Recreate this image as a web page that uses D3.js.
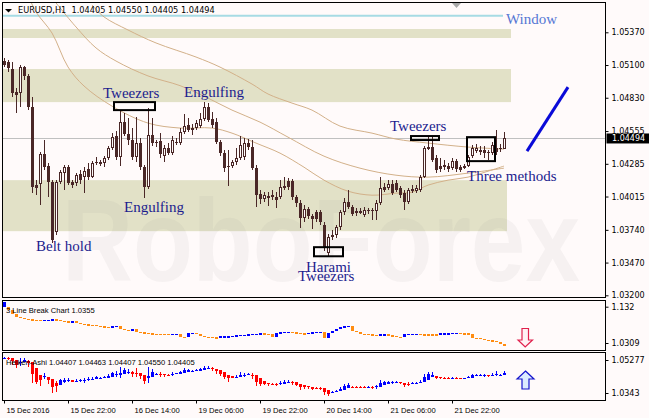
<!DOCTYPE html>
<html><head><meta charset="utf-8">
<script src="https://cdn.jsdelivr.net/npm/d3@7/dist/d3.min.js"></script>
<style>
html,body{margin:0;padding:0;background:#fffafa;}
svg{display:block;}
</style></head>
<body>
<svg id="chart" width="649" height="418"></svg>
<script>
// ---------------- DATA ----------------
const opens = [
1.05133,1.05125,1.05067,1.04877,1.04869,1.05083,1.05009,1.04753,1.04109,1.04117,
1.04365,1.04266,1.04133,1.03721,1.04133,1.04208,1.04257,1.04133,1.04125,1.04199,
1.04175,1.04241,1.04175,1.04299,1.04299,1.04291,1.04332,1.04415,1.04514,1.04340,
1.04629,1.04530,1.04481,1.04340,1.04456,1.04257,1.04092,1.04522,1.04464,1.04472,
1.04348,1.04415,1.04373,1.04464,1.04456,1.04547,1.04604,1.04580,1.04580,1.04596,
1.04654,1.04753,1.04654,1.04629,1.04464,1.04373,1.04266,1.04266,1.04299,1.04332,
1.04340,1.04456,1.04423,1.04249,1.04034,1.03993,1.04018,1.04026,1.04010,1.04010,
1.04100,1.04142,1.04142,1.04010,1.03960,1.03836,1.03911,1.03853,1.03886,1.03886,
1.03778,1.03547,1.03679,1.03696,1.03762,1.03886,1.03968,1.03927,1.03894,1.03877,
1.03861,1.03902,1.03902,1.03894,1.03960,1.04092,1.04084,1.04117,1.04125,1.04084,
1.04043,1.03968,1.04076,1.04059,1.04068,1.04175,1.04406,1.04423,1.04332,1.04266,
1.04274,1.04266,1.04249,1.04307,1.04257,1.04249,1.04266,1.04348,1.04390,1.04398,
1.04398,1.04381,1.04373,1.04415,1.04415,1.04405];
const highs = [
1.05158,1.05141,1.05125,1.04910,1.05100,1.05092,1.05026,1.04836,1.04150,1.04381,
1.04481,1.04291,1.04150,1.04150,1.04233,1.04274,1.04274,1.04150,1.04208,1.04233,
1.04257,1.04291,1.04307,1.04340,1.04315,1.04348,1.04431,1.04538,1.04555,1.04720,
1.04703,1.04662,1.04580,1.04670,1.04497,1.04274,1.04745,1.04662,1.04481,1.04538,
1.04439,1.04456,1.04514,1.04497,1.04580,1.04695,1.04662,1.04612,1.04646,1.04703,
1.04794,1.04786,1.04712,1.04662,1.04481,1.04398,1.04398,1.04315,1.04415,1.04514,
1.04497,1.04489,1.04481,1.04274,1.04068,1.04051,1.04051,1.04068,1.04051,1.04150,
1.04175,1.04166,1.04158,1.04026,1.03985,1.03943,1.03927,1.03869,1.03902,1.03902,
1.03803,1.03704,1.03737,1.03778,1.03902,1.04001,1.04068,1.03943,1.03919,1.03919,
1.03927,1.03919,1.03919,1.03985,1.04175,1.04125,1.04150,1.04150,1.04150,1.04100,
1.04068,1.04084,1.04109,1.04109,1.04191,1.04431,1.04505,1.04505,1.04357,1.04332,
1.04315,1.04291,1.04332,1.04324,1.04274,1.04282,1.04357,1.04439,1.04448,1.04431,
1.04431,1.04398,1.04464,1.04563,1.04448,1.04550];
const lows = [
1.05083,1.05042,1.04836,1.04703,1.04753,1.04976,1.04728,1.04043,1.04026,1.03943,
1.04233,1.04010,1.03630,1.03696,1.04117,1.04068,1.04109,1.04084,1.04100,1.04117,
1.04043,1.04150,1.04166,1.04274,1.04266,1.04257,1.04315,1.04398,1.04315,1.04266,
1.04514,1.04439,1.04315,1.04299,1.04233,1.04001,1.04076,1.04431,1.04423,1.04332,
1.04299,1.04357,1.04357,1.04439,1.04439,1.04530,1.04547,1.04522,1.04563,1.04580,
1.04637,1.04629,1.04580,1.04448,1.04348,1.04216,1.04100,1.04249,1.04274,1.04315,
1.04315,1.04398,1.04233,1.03927,1.03952,1.03968,1.03935,1.03985,1.03919,1.03993,
1.04068,1.04068,1.03985,1.03927,1.03754,1.03803,1.03828,1.03745,1.03803,1.03778,
1.03564,1.03522,1.03655,1.03671,1.03737,1.03861,1.03911,1.03853,1.03853,1.03869,
1.03844,1.03869,1.03820,1.03820,1.03943,1.04051,1.04068,1.04026,1.04051,1.04001,
1.03902,1.03952,1.04043,1.04043,1.04051,1.04166,1.04398,1.04299,1.04208,1.04216,
1.04233,1.04216,1.04233,1.04216,1.04216,1.04241,1.04257,1.04332,1.04373,1.04357,
1.04332,1.04315,1.04357,1.04357,1.04381,1.04405];
const closes = [
1.05100,1.05075,1.04869,1.04852,1.05083,1.05009,1.04753,1.04092,1.04084,1.04365,
1.04257,1.04133,1.03655,1.04133,1.04216,1.04257,1.04125,1.04109,1.04191,1.04150,
1.04224,1.04175,1.04291,1.04291,1.04282,1.04332,1.04415,1.04505,1.04340,1.04629,
1.04530,1.04481,1.04340,1.04456,1.04257,1.04092,1.04522,1.04456,1.04456,1.04365,
1.04415,1.04373,1.04481,1.04456,1.04547,1.04596,1.04563,1.04563,1.04621,1.04654,
1.04753,1.04646,1.04604,1.04464,1.04373,1.04249,1.04257,1.04299,1.04332,1.04439,
1.04456,1.04423,1.04249,1.04026,1.03993,1.04026,1.04001,1.04010,1.03985,1.04092,
1.04084,1.04092,1.04010,1.03960,1.03836,1.03911,1.03853,1.03828,1.03828,1.03803,
1.03589,1.03679,1.03696,1.03762,1.03886,1.03968,1.03927,1.03869,1.03877,1.03894,
1.03902,1.03894,1.03894,1.03960,1.04084,1.04068,1.04117,1.04043,1.04068,1.04026,
1.03968,1.04068,1.04059,1.04084,1.04175,1.04415,1.04423,1.04315,1.04233,1.04241,
1.04257,1.04241,1.04307,1.04241,1.04233,1.04266,1.04340,1.04415,1.04415,1.04381,
1.04373,1.04373,1.04439,1.04381,1.04406,1.04494];

const priceTicks = [1.05370,1.05100,1.04830,1.04555,1.04285,1.04015,1.03740,1.03470,1.03200];
const timeIdx = [0,16,32,48,64,80,96,112];
const timeLabels = ["15 Dec 2016","15 Dec 22:00","16 Dec 14:00","19 Dec 06:00","19 Dec 22:00","20 Dec 14:00","21 Dec 06:00","21 Dec 22:00"];

// moving averages (bar index, price)
const maFastIdx = [6,8,12,16,20,27,36,44,52,57,63,69,75,80,86,92,98,102,106,111,116,121,125];
const maFastVal = [1.05678,1.05538,1.05364,1.05084,1.04927,1.04761,1.04621,1.04580,1.04580,1.04538,1.04456,1.04373,1.04257,1.04150,1.04059,1.04026,1.04043,1.04051,1.04109,1.04150,1.04175,1.04224,1.04266];
const maMidIdx = [12,18,23,28,36,44,51,57,64,71,80,89,98,106,116,125];
const maMidVal = [1.05654,1.05414,1.05241,1.05133,1.05010,1.04930,1.04827,1.04728,1.04629,1.04505,1.04348,1.04249,1.04191,1.04175,1.04208,1.04249];
const maSlowIdx = [22,25,31,38,48,54,62,66,72,77,84,92,98,106,116,125];
const maSlowVal = [1.05596,1.05497,1.05389,1.05282,1.05166,1.05083,1.04943,1.04861,1.04786,1.04728,1.04596,1.04538,1.04489,1.04456,1.04423,1.04406];

// support / resistance zones
const zoneHi = [1.05397,1.05067,1.04150];
const zoneLo = [1.05323,1.04794,1.03729];
const zoneEnd = [126.75,126.75,125.75];

// pattern boxes
const boxI0 = [27.5,77.5,101.75,115.75];
const boxI1 = [37.75,84.75,108.75,122.75];
const boxHi = [1.04794,1.03597,1.04514,1.04505];
const boxLo = [1.04728,1.03522,1.04481,1.04307];

// pattern notes
const noteText  = ["Tweezers","Engulfing","Engulfing","Belt hold","Harami","Tweezers","Tweezers","Three methods"];
const noteIdx   = [24.75,45,30,8,75.5,73.5,96.5,115.75];
const notePrice = [1.04832,1.04836,1.03889,1.03566,1.03390,1.03316,1.04555,1.04142];

const windowPrice = 1.05507;
const lastPrice = 1.04494;
const trendIdx = [130.75,141];
const trendPrice = [1.04390,1.04918];

// 3 Line Break indicator values and direction (1 = up / blue)
const lbVal = [
1.1211,1.1145,1.1057,1.0991,1.0969,1.0947,1.0936,1.0925,1.0925,1.0903,
1.0925,1.0925,1.0936,1.0925,1.0903,1.0903,1.0859,1.0903,1.0859,1.0837,
1.0826,1.0815,1.0815,1.0793,1.0782,1.0771,1.0749,1.0793,1.0793,1.0727,
1.0705,1.0683,1.0727,1.0661,1.0650,1.0639,1.0628,1.0617,1.0617,1.0617,
1.0617,1.0595,1.0617,1.0617,1.0551,1.0551,1.0639,1.0639,1.0617,1.0573,
1.0551,1.0551,1.0540,1.0529,1.0562,1.0562,1.0562,1.0573,1.0584,1.0595,
1.0595,1.0606,1.0617,1.0617,1.0628,1.0617,1.0617,1.0551,1.0639,1.0650,
1.0661,1.0661,1.0650,1.0639,1.0628,1.0628,1.0639,1.0650,1.0661,1.0661,
1.0529,1.0639,1.0683,1.0727,1.0771,1.0782,1.0793,1.0683,1.0661,1.0617,
1.0617,1.0606,1.0595,1.0595,1.0606,1.0606,1.0584,1.0573,1.0551,1.0540,
1.0617,1.0617,1.0617,1.0617,1.0606,1.0606,1.0606,1.0606,1.0606,1.0628,
1.0628,1.0628,1.0639,1.0639,1.0628,1.0628,1.0617,1.0529,1.0529,1.0507,
1.0485,1.0474,1.0463,1.0441,1.0397,1.0355];
const lbUp = [
1,0,0,0,0,0,0,0,0,0, 1,1,1,0,0,0,0,1,0,0, 0,0,0,0,0,0,0,1,1,0,
0,0,1,0,0,0,0,0,0,0, 0,0,1,1,0,0,1,1,0,0, 0,0,0,0,1,1,1,1,1,1,
1,1,1,1,1,0,0,0,1,1, 1,1,0,0,0,0,1,1,1,1, 0,1,1,1,1,1,1,0,0,0,
0,0,0,0,1,1,0,0,0,0, 1,1,1,1,0,0,0,0,0,1, 1,1,1,1,0,0,0,0,0,0,
0,0,0,0,0,0];
const lbRange = [1.0309,1.132];
const lbTicks = [1.132,1.0309];
const haRange = [1.0343,1.05277];
const haTicks = [1.05277,1.0343];

// ---------------- LAYOUT ----------------
const svg = d3.select('#chart');
const L = 2.5, R = 605.5;
const mainT = 2.5, mainB = 297.5;
const p1T = 300.5, p1B = 350.5;
const p2T = 352.5, p2B = 400.5;
const BG = '#fffafa', BROWN = '#4a2727';
const serif = '"Liberation Serif","Times New Roman",serif';
const sans8 = '"DejaVu Sans",Verdana,sans-serif';
const arial = '"Liberation Sans",Arial,sans-serif';

svg.append('rect').attr('width',649).attr('height',418).attr('fill',BG);

const x = d3.scaleLinear().domain([0,125]).range([4,504]);
const y = d3.scaleLinear().domain([1.0320,1.0537]).range([295.3,32.3]);

const defs = svg.append('defs');
defs.append('clipPath').attr('id','clipMain').append('rect')
  .attr('x',L).attr('y',mainT).attr('width',R-L).attr('height',mainB-mainT);
defs.append('clipPath').attr('id','clipP1').append('rect')
  .attr('x',L).attr('y',p1T).attr('width',R-L).attr('height',p1B-p1T);
defs.append('clipPath').attr('id','clipP2').append('rect')
  .attr('x',L).attr('y',p2T).attr('width',R-L).attr('height',p2B-p2T);

// ---------------- MAIN PANEL ----------------
const gm = svg.append('g').attr('clip-path','url(#clipMain)');

// zones
gm.selectAll('rect.zone').data(zoneHi.map((h,k)=>({h,l:zoneLo[k],e:zoneEnd[k]})))
  .join('rect').attr('x',L).attr('y',d=>y(d.h)).attr('width',d=>x(d.e)-L)
  .attr('height',d=>y(d.l)-y(d.h)).attr('fill','#e2e1c7');

// watermark
gm.append('text').attr('x',62).attr('y',281).text('RoboForex')
  .attr('font-family','"Liberation Sans",Arial,sans-serif').attr('font-weight','bold')
  .attr('font-size',116).attr('textLength',518).attr('lengthAdjust','spacingAndGlyphs')
  .attr('fill','#8a8a8a').attr('fill-opacity',0.075);

// window line
gm.append('line').attr('x1',L).attr('x2',x(124.75)).attr('y1',y(windowPrice)).attr('y2',y(windowPrice))
  .attr('stroke','#a6dbe4').attr('stroke-width',2);

// current price line
gm.append('line').attr('x1',L).attr('x2',R).attr('y1',Math.round(y(lastPrice))+0.5).attr('y2',Math.round(y(lastPrice))+0.5)
  .attr('stroke','#c0c0c0').attr('stroke-width',1);

// moving averages
const maLine = d3.line().x(d=>x(d[0])).y(d=>y(d[1])).curve(d3.curveCatmullRom);
[[maFastIdx,maFastVal],[maMidIdx,maMidVal],[maSlowIdx,maSlowVal]].forEach(([ix,vv])=>{
  gm.append('path').attr('d',maLine(ix.map((v,k)=>[v,vv[k]])))
    .attr('fill','none').attr('stroke','#d2b089').attr('stroke-width',1);
});

// candles
const bars = opens.map((o,i)=>({i,o,h:highs[i],l:lows[i],c:closes[i]}));
const gc = gm.append('g').attr('shape-rendering','crispEdges');
gc.selectAll('line.wick').data(bars).join('line')
  .attr('x1',d=>x(d.i)+0.5).attr('x2',d=>x(d.i)+0.5)
  .attr('y1',d=>y(d.h)).attr('y2',d=>y(d.l)).attr('stroke',BROWN).attr('stroke-width',1);
gc.selectAll('rect.body').data(bars).join('rect')
  .each(function(d){
    const top = y(Math.max(d.o,d.c)), bot = y(Math.min(d.o,d.c));
    const s = d3.select(this);
    if (d.c > d.o) {
      s.attr('x',x(d.i)-0.5).attr('width',2).attr('y',top+0.5).attr('height',Math.max(0.5,bot-top-1))
       .attr('fill',BG).attr('stroke',BROWN).attr('stroke-width',1);
    } else {
      s.attr('x',x(d.i)-1).attr('width',3).attr('y',top).attr('height',Math.max(1,bot-top)).attr('fill',BROWN);
    }
  });

// pattern boxes
gm.selectAll('rect.box').data(boxI0.map((a,k)=>({a,b:boxI1[k],h:boxHi[k],l:boxLo[k]})))
  .join('rect').attr('x',d=>x(d.a)).attr('y',d=>y(d.h)).attr('width',d=>x(d.b)-x(d.a))
  .attr('height',d=>y(d.l)-y(d.h)).attr('fill','none').attr('stroke','#000').attr('stroke-width',2);

// notes
gm.selectAll('text.note').data(noteText.map((t,k)=>({t,i:noteIdx[k],p:notePrice[k]})))
  .join('text').attr('x',d=>x(d.i)).attr('y',d=>y(d.p)).text(d=>d.t)
  .attr('font-family',serif).attr('font-size',15).attr('fill','#1c1c8e');
gm.append('text').attr('x',x(125.5)).attr('y',y(1.05439)).text('Window')
  .attr('font-family',serif).attr('font-size',15).attr('fill','#5577d4');

// trend line
gm.append('line').attr('x1',x(trendIdx[0])).attr('y1',y(trendPrice[0]))
  .attr('x2',x(trendIdx[1])).attr('y2',y(trendPrice[1]))
  .attr('stroke','#0a0ad8').attr('stroke-width',3);

// shift marker
gm.append('path').attr('d','M452,3 L461,3 L456.5,8 Z').attr('fill','#a8a8a8');

// header
svg.append('path').attr('d','M5,9 L12,9 L8.5,12.5 Z').attr('fill','#000');
svg.append('text').attr('x',18).attr('y',13).text('EURUSD,H1  1.04405 1.04550 1.04405 1.04494')
  .attr('xml:space','preserve').style('white-space','pre')
  .attr('font-family',sans8).attr('font-size',8.2).attr('fill','#000');

// main border
svg.append('rect').attr('x',L).attr('y',mainT).attr('width',R-L).attr('height',mainB-mainT)
  .attr('fill','none').attr('stroke','#000');

// price axis
const ay = svg.append('g').attr('transform',`translate(${R},0)`)
  .call(d3.axisRight(y).tickValues(priceTicks).tickSize(3).tickPadding(3).tickFormat(d=>d.toFixed(5)));
ay.select('.domain').remove();
ay.selectAll('text').attr('font-family',sans8).attr('font-size',8).attr('fill','#000');
ay.selectAll('line').attr('stroke','#000');

// last price label
svg.append('rect').attr('x',R+1).attr('y',y(lastPrice)-5).attr('width',649-R).attr('height',10).attr('fill','#000');
svg.append('text').attr('x',612).attr('y',y(lastPrice)+3).text(lastPrice.toFixed(5))
  .attr('font-family',sans8).attr('font-size',8).attr('fill','#fff');

// ---------------- PANEL 1 : LINE BREAK ----------------
const yL = d3.scaleLinear().domain(lbRange).range([348,302]);
const g1 = svg.append('g').attr('clip-path','url(#clipP1)').attr('shape-rendering','crispEdges');
g1.selectAll('rect.lb').data(lbVal.map((v,i)=>({i,v,p:i===0?lbRange[1]:lbVal[i-1],u:lbUp[i]})))
  .join('rect')
  .attr('x',d=>x(d.i)-1).attr('width',3)
  .attr('y',d=>Math.min(yL(d.v),yL(d.p)))
  .attr('height',d=>Math.max(1.2,Math.abs(yL(d.v)-yL(d.p))))
  .attr('fill',d=>d.u? '#0000ff' : '#ff8c10');
svg.append('text').attr('x',6).attr('y',313).text('3 Line Break Chart 1.0355')
  .attr('font-family',arial).attr('font-size',7.6).attr('fill','#000');
svg.append('rect').attr('x',L).attr('y',p1T).attr('width',R-L).attr('height',p1B-p1T)
  .attr('fill','none').attr('stroke','#000');
const yLax = d3.scaleLinear().domain(lbRange).range([343,306.7]);
const a1 = svg.append('g').attr('transform',`translate(${R},0)`)
  .call(d3.axisRight(yLax).tickValues(lbTicks).tickSize(3).tickPadding(3).tickFormat(d=>String(d)));
a1.select('.domain').remove();
a1.selectAll('text').attr('font-family',sans8).attr('font-size',8).attr('fill','#000');
// down arrow
svg.append('path').attr('d','M522,328.5 H528.5 V340 H532.5 L525.2,347 L518,340 H522 Z')
  .attr('fill','#fff2f4').attr('stroke','#e0204c').attr('stroke-width',1.2);

// ---------------- PANEL 2 : HEIKEN ASHI ----------------
const haO=[],haC=[],haH=[],haL=[];
for (let i=0;i<opens.length;i++){
  const c=(opens[i]+highs[i]+lows[i]+closes[i])/4;
  const o= i===0 ? (opens[0]+closes[0])/2 : (haO[i-1]+haC[i-1])/2;
  haO.push(o); haC.push(c); haH.push(Math.max(highs[i],o,c)); haL.push(Math.min(lows[i],o,c));
}
const yH = d3.scaleLinear().domain(haRange).range([398,354]);
const ha = haO.map((o,i)=>({i,o,c:haC[i],h:haH[i],l:haL[i]}));
const g2 = svg.append('g').attr('clip-path','url(#clipP2)').attr('shape-rendering','crispEdges');
g2.selectAll('line').data(ha).join('line')
  .attr('x1',d=>x(d.i)+0.5).attr('x2',d=>x(d.i)+0.5).attr('y1',d=>yH(d.h)).attr('y2',d=>yH(d.l))
  .attr('stroke',d=>d.c>=d.o?'#0000ff':'#ff0000');
g2.selectAll('rect').data(ha).join('rect')
  .attr('x',d=>x(d.i)-1).attr('width',3)
  .attr('y',d=>yH(Math.max(d.o,d.c))).attr('height',d=>Math.max(1,Math.abs(yH(d.o)-yH(d.c))))
  .attr('fill',d=>d.c>=d.o?'#0000ff':'#ff0000');
svg.append('text').attr('x',6).attr('y',365).text('Heiken-Ashi 1.04407 1.04463 1.04407 1.04550 1.04405')
  .attr('font-family',arial).attr('font-size',7.6).attr('fill','#000');
svg.append('rect').attr('x',L).attr('y',p2T).attr('width',R-L).attr('height',p2B-p2T)
  .attr('fill','none').attr('stroke','#000');
const yHax = d3.scaleLinear().domain(haRange).range([393,360]);
const a2 = svg.append('g').attr('transform',`translate(${R},0)`)
  .call(d3.axisRight(yHax).tickValues(haTicks).tickSize(3).tickPadding(3).tickFormat(d=>String(d)));
a2.select('.domain').remove();
a2.selectAll('text').attr('font-family',sans8).attr('font-size',8).attr('fill','#000');
// up arrow
svg.append('path').attr('d','M525.5,371 L534,379 H529 V389 H522 V379 H517 Z')
  .attr('fill','#dcebff').attr('stroke','#1414cc').attr('stroke-width',1.2);

// ---------------- TIME AXIS ----------------
const ax = svg.append('g').attr('transform',`translate(0,${p2B})`)
  .call(d3.axisBottom(x).tickValues(timeIdx).tickSize(3).tickFormat((d,k)=>timeLabels[k]));
ax.select('.domain').remove();
ax.selectAll('line').attr('stroke','#000');
ax.selectAll('text').attr('text-anchor','start').attr('x',2).attr('y',12.5).attr('dy',null)
  .attr('font-family',arial).attr('font-size',7.6).attr('fill','#000');
</script>
</body></html>
